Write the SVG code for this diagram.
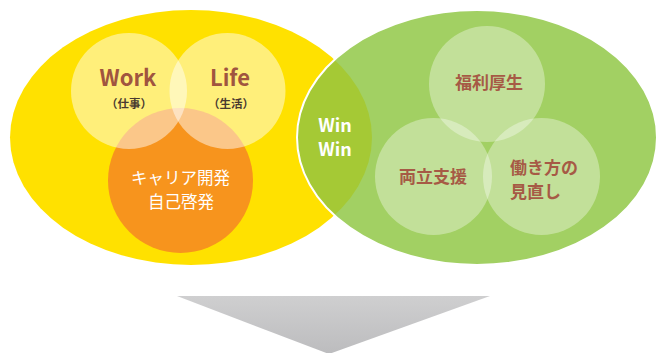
<svg xmlns="http://www.w3.org/2000/svg" width="656" height="353" viewBox="0 0 656 353">
<defs>
<clipPath id="yclip"><ellipse cx="191" cy="137.5" rx="181" ry="127.5"/></clipPath>
<linearGradient id="arrowGrad" x1="0" y1="0" x2="0" y2="1">
<stop offset="0" stop-color="#cfcfd0"/>
<stop offset="1" stop-color="#bcbcbe"/>
</linearGradient>
<style>
.t{font-family:"Noto Sans CJK JP","Noto Sans",sans-serif;text-anchor:middle}
.brown{fill:#a0553f;font-weight:bold}
.wl{fill:#ffffff;fill-opacity:0.48}
.gl{fill:#ffffff;fill-opacity:0.35}
.gtx{fill:#a65a45;font-size:17px;font-weight:bold}
</style>
</defs>
<g id="yellow-ellipse"><ellipse cx="191" cy="137.5" rx="181" ry="127.5" fill="#ffe100"/></g>
<g id="green-ellipse"><ellipse cx="477" cy="137.5" rx="180" ry="127.5" fill="#a2d063"/></g>
<g id="winwin">
<ellipse cx="477" cy="137.5" rx="180" ry="127.5" fill="#a5c935" clip-path="url(#yclip)"/>
<ellipse cx="477" cy="137.5" rx="180" ry="127.5" fill="none" stroke="#ffffff" stroke-width="2"/>
<text class="t" x="335" y="132" fill="#ffffff" font-size="18" font-weight="bold">Win</text>
<text class="t" x="335" y="156" fill="#ffffff" font-size="18" font-weight="bold">Win</text>
</g>
<g id="career">
<circle cx="180.5" cy="180.5" r="72.5" fill="#f7941d"/>
<text class="t" x="180.5" y="184" fill="#ffffff" font-size="16.5">キャリア開発</text>
<text class="t" x="181" y="208" fill="#ffffff" font-size="16.5">自己啓発</text>
</g>
<g id="work">
<circle class="wl" cx="129" cy="91" r="58"/>
<text class="t brown" x="128" y="86" font-size="22">Work</text>
<text class="t" x="129" y="108" fill="#4a3a30" font-size="11.5" font-weight="bold">（仕事）</text>
</g>
<g id="life">
<circle class="wl" cx="227.5" cy="91" r="58"/>
<text class="t brown" x="230" y="86" font-size="22">Life</text>
<text class="t" x="231" y="108" fill="#4a3a30" font-size="11.5" font-weight="bold">（生活）</text>
</g>
<g id="welfare">
<circle class="gl" cx="487" cy="84" r="58"/>
<text class="t gtx" x="489" y="89">福利厚生</text>
</g>
<g id="support">
<circle class="gl" cx="433.5" cy="176.5" r="58.5"/>
<text class="t gtx" x="433" y="183">両立支援</text>
</g>
<g id="workstyle">
<circle class="gl" cx="541.5" cy="176.5" r="58.5"/>
<text class="gtx" x="510" y="174" style="font-family:'Noto Sans CJK JP','Noto Sans',sans-serif">働き方の</text>
<text class="gtx" x="510" y="198" style="font-family:'Noto Sans CJK JP','Noto Sans',sans-serif">見直し</text>
</g>
<g id="connectors">
<polygon points="177,296 490,296 329,354" fill="url(#arrowGrad)"/>
</g>
</svg>
